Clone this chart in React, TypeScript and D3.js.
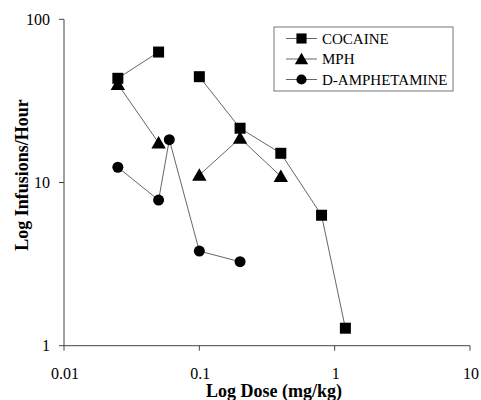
import { useEffect, useRef } from 'react'
import * as d3 from 'd3'

// dose (mg/kg); null marks a break in the line
const cocaineDose = [0.025, 0.05, null, 0.1, 0.2, 0.4, 0.8, 1.2]
const cocaineRate = [43.5, 63, null, 44.5, 21.5, 15.1, 6.3, 1.28]
const mphDose = [0.025, 0.05, null, 0.1, 0.2, 0.4]
const mphRate = [40, 17.5, null, 11.1, 18.7, 10.9]
const ampDose = [0.025, 0.05, 0.06, 0.1, 0.2]
const ampRate = [12.4, 7.8, 18.3, 3.8, 3.27]

const xTicks = [0.01, 0.1, 1, 10]
const yTicks = [1, 10, 100]
const seriesNames = ['COCAINE', 'MPH', 'D-AMPHETAMINE']

export default function App() {
  const svgRef = useRef<SVGSVGElement | null>(null)

  useEffect(() => {
    if (!svgRef.current) return
    const width = 481
    const height = 400
    const svg = d3.select(svgRef.current)
    svg.selectAll('*').remove()
    svg.attr('width', width).attr('height', height)

    const x = d3.scaleLog().domain([0.01, 10]).range([64, 470])
    const y = d3.scaleLog().domain([1, 100]).range([345.7, 19.3])
    const font = '"Liberation Serif", "Times New Roman", serif'

    // axes
    svg.append('line')
      .attr('x1', x(0.01)).attr('x2', x(10))
      .attr('y1', y(1)).attr('y2', y(1))
      .attr('stroke', '#444').attr('stroke-width', 1)
    svg.append('line')
      .attr('x1', x(0.01)).attr('x2', x(0.01))
      .attr('y1', y(1)).attr('y2', y(100))
      .attr('stroke', '#444').attr('stroke-width', 1)

    xTicks.forEach(t => {
      svg.append('line')
        .attr('x1', x(t)).attr('x2', x(t))
        .attr('y1', y(1)).attr('y2', y(1) + 5)
        .attr('stroke', '#444')
      svg.append('text')
        .attr('x', x(t) + 1).attr('y', 379)
        .attr('text-anchor', 'middle')
        .style('font-family', font).style('font-size', '16px')
        .text(String(t))
    })
    yTicks.forEach(t => {
      svg.append('line')
        .attr('x1', x(0.01) - 5).attr('x2', x(0.01))
        .attr('y1', y(t)).attr('y2', y(t))
        .attr('stroke', '#444')
      svg.append('text')
        .attr('x', 50).attr('y', y(t) + 5.5)
        .attr('text-anchor', 'end')
        .style('font-family', font).style('font-size', '16px')
        .text(String(t))
    })

    // axis titles
    svg.append('text')
      .attr('x', 274).attr('y', 397)
      .attr('text-anchor', 'middle')
      .style('font-family', font).style('font-size', '18px').style('font-weight', 'bold')
      .text('Log Dose (mg/kg)')
    svg.append('text')
      .attr('transform', 'translate(28, 175) rotate(-90)')
      .attr('text-anchor', 'middle')
      .style('font-family', font).style('font-size', '18px').style('font-weight', 'bold')
      .text('Log Infusions/Hour')

    const symbols = [d3.symbolSquare, d3.symbolTriangle, d3.symbolCircle]
    const sizes = [121, 90, 95]

    const series = [
      { dose: cocaineDose, rate: cocaineRate },
      { dose: mphDose, rate: mphRate },
      { dose: ampDose, rate: ampRate },
    ]

    const line = d3.line<[number | null, number | null]>()
      .defined(d => d[0] != null && d[1] != null)
      .x(d => x(d[0] as number))
      .y(d => y(d[1] as number))

    series.forEach(s => {
      const pts = s.dose.map((d, i) => [d, s.rate[i]] as [number | null, number | null])
      svg.append('path')
        .attr('d', line(pts))
        .attr('fill', 'none')
        .attr('stroke', '#555')
        .attr('stroke-width', 0.9)
    })

    series.forEach((s, si) => {
      const sym = d3.symbol().type(symbols[si]).size(sizes[si])
      s.dose.forEach((d, i) => {
        const r = s.rate[i]
        if (d == null || r == null) return
        const dy = si === 1 ? 1.5 : 0
        svg.append('path')
          .attr('d', sym())
          .attr('transform', `translate(${x(d)}, ${y(r) + dy})`)
          .attr('fill', '#000')
      })
    })

    // legend
    const lg = svg.append('g')
    lg.append('rect')
      .attr('x', 274).attr('y', 27)
      .attr('width', 179).attr('height', 64)
      .attr('fill', '#fff').attr('stroke', '#777').attr('stroke-width', 1)
    seriesNames.forEach((name, i) => {
      const cy = 38.5 + i * 20.5
      lg.append('line')
        .attr('x1', 286).attr('x2', 317)
        .attr('y1', cy).attr('y2', cy)
        .attr('stroke', '#555').attr('stroke-width', 0.9)
      lg.append('path')
        .attr('d', d3.symbol().type(symbols[i]).size(sizes[i] * 0.85)())
        .attr('transform', `translate(301.5, ${cy + (i === 1 ? 1.5 : 0)})`)
        .attr('fill', '#000')
      lg.append('text')
        .attr('x', 322).attr('y', cy + 5)
        .style('font-family', font).style('font-size', '15px')
        .text(name)
    })
  }, [])

  return (
    <svg ref={svgRef} style={{ position: 'absolute', left: 0, top: 0, display: 'block', background: '#fff' }} />
  )
}
